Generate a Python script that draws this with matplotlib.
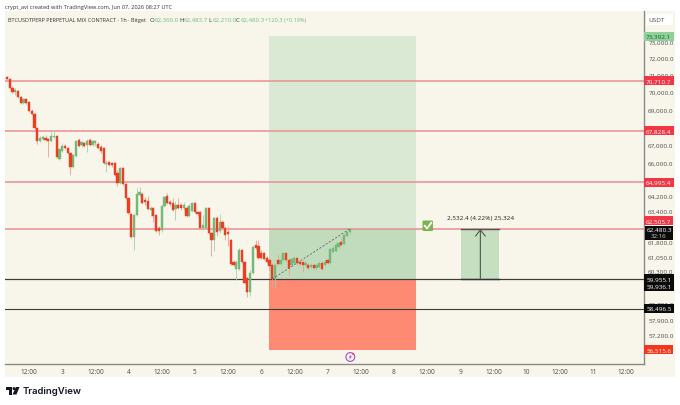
import matplotlib
matplotlib.use("Agg")
import matplotlib.pyplot as plt
from matplotlib.patches import Rectangle, FancyBboxPatch, Polygon, Circle
from matplotlib.ticker import NullLocator, NullFormatter
from matplotlib.transforms import blended_transform_factory, ScaledTranslation
import numpy as np

plt.rcParams['font.family'] = ['Open Sans', 'DejaVu Sans']

# ---------- data ----------
start_hour = 4
opens = [70940,70820,70310,70080,70130,69790,69440,69670,69500,68980,68810,68000,67270,67380,67440,67380,67270,67490,67550,66280,
         66720,67000,66890,66610,65830,66440,67330,67050,67160,67050,67330,67050,67160,67100,66940,66890,66000,66110,66050,66050,
         65490,64940,65770,64890,64150,63300,62100,63250,64310,64360,64040,63990,63510,63620,63250,62560,62450,63720,64250,63930,
         63880,63560,63780,63780,63620,63620,63190,63460,63880,63400,63400,62560,62560,63620,62300,61940,63090,62400,62880,62560,
         62350,61940,60820,60470,60470,61430,60820,60000,59300,60260,61690,61640,61280,61280,61030,60920,60670,59950,60920,60720,
         60920,61280,60920,60670,60770,61030,60820,60820,60670,60670,60570,60670,60520,60570,60770,60670,60920,60770,61330,61380,
         61590,61840,61740,62150,62360]
highs = [71000,70880,70420,70310,70190,69850,69730,69730,69560,69100,68870,68060,67550,67600,67600,67440,67830,67880,67600,66890,
         67160,67100,66940,66660,66550,67330,67440,67270,67220,67380,67440,67330,67330,67220,67050,66940,66220,66160,66110,66110,
         65660,65830,65830,64940,64200,63350,63300,64680,64730,64470,64200,64250,63720,63670,63300,62660,63780,64250,64410,64040,
         64150,63990,64150,63880,63930,63720,63830,63930,63930,63460,63460,63250,63670,63670,62350,63140,63190,63300,62980,62660,
         62660,62000,60920,60920,61530,61480,60870,60060,60420,61690,61940,61940,61430,61330,61130,61030,60770,60720,61230,61230,
         61330,61330,60970,61030,61130,61080,60920,60870,60920,60770,60770,60720,60770,60820,60820,60920,60970,61530,61640,61790,
         61840,62100,62300,62400,62484]
lows = [70770,70310,70020,69900,69730,69380,69380,69380,68920,68750,67890,67100,67220,67330,67270,66390,67220,67440,66330,66220,
        66660,66830,66550,65380,65770,66390,66940,66940,66940,66660,67000,67000,67000,66830,66610,66000,65550,65890,65830,65330,
        64780,64890,64830,64100,63300,62050,61430,63200,64200,63830,63780,63510,63200,62880,62350,62200,62350,63670,63830,63720,
        63460,62980,63560,63510,63510,63140,63140,63400,63350,63190,62510,62450,62510,62250,61120,61380,62150,62300,62510,61940,
        61640,60670,60620,59900,60420,60770,59700,59050,59100,60210,61480,60980,60980,60920,60770,60420,59550,59500,60670,60670,
        60870,60820,60160,60620,60720,60670,60620,60310,60620,60420,60470,60470,60420,60520,60420,60620,60720,60720,61280,61330,
        61530,61640,61690,62100,62210]
closes = [70820,70310,70080,70190,69790,69440,69670,69440,68980,68810,68000,67270,67440,67490,67330,67270,67550,67550,66390,66830,
          67000,66890,66610,65830,66500,67270,67000,67220,67000,67270,67050,67270,67270,66890,66720,66050,66050,65940,65940,65380,
          64940,65770,64890,64150,63350,62100,63250,64360,64470,63880,63930,63560,63620,63190,62400,62400,63720,64200,63880,63830,
          63510,63780,63620,63620,63780,63190,63720,63880,63400,63300,62560,62720,63620,62300,61940,63090,62350,62880,62560,62200,
          62250,60720,60670,60820,61430,60820,59750,59300,60260,61590,61530,61030,61030,60980,60820,60620,59950,60670,60720,60920,
          61280,60920,60520,60970,61030,60770,60720,60670,60770,60520,60670,60520,60670,60770,60470,60820,60770,61480,61530,61690,
          61790,61690,62200,62350,62480]

red_levels = [70710.7, 67828.4, 64995.4, 62505.7]
black_levels = [59955.1, 59936.1, 58496.5]
position_top, position_entry, position_stop = 73392.1, 59955.1, 56515.6
target_price = 62505.7
position_hours = (98.8, 152.0)
measure_hours = (168.4, 182.2)
trend_hours = (100.0, 128.0)
trend_prices = (59955.1, 62505.7)

tick_prices = [73000,72000,71000,70000,69000,68000,67000,66000,64200,63400,61800,61050,60300,58700,57900,57200]
tick_labels = ['73,000.0','72,000.0','71,000.0','70,000.0','69,000.0','68,000.0','67,000.0','66,000.0',
               '64,200.0','63,400.0','61,800.0','61,050.0','60,300.0','58,700.0','57,900.0','57,200.0']
time_hours = list(range(12, 235, 12))
time_labels = ['12:00','3','12:00','4','12:00','5','12:00','6','12:00','7','12:00','8','12:00','9','12:00','10','12:00','11','12:00']

# price tag: text, price, vertical pixel shift, face, text colour
tags = [('73,392.1', 73392.1, 0, '#8fd19a', '#1d5c2a'),
        ('70,710.7', 70710.7, 0, '#f23645', '#ffffff'),
        ('67,828.4', 67828.4, 0, '#f23645', '#ffffff'),
        ('64,995.4', 64995.4, 0, '#f23645', '#ffffff'),
        ('62,505.7', 62505.7, 8, '#f23645', '#ffffff'),
        ('59,955.1', 59955.1, 0, '#0b0b0b', '#ffffff'),
        ('59,936.1', 59936.1, -7, '#0b0b0b', '#ffffff'),
        ('58,496.5', 58496.5, 0, '#0b0b0b', '#ffffff'),
        ('56,515.6', 56515.6, 0, '#f6361c', '#ffffff')]

# ---------- figure ----------
W, H = 680, 406
fig = plt.figure(figsize=(W/100, H/100), dpi=100, facecolor='white')
PANEL = '#f8f5eb'
fig.patches.append(Rectangle((5/W, 1-378/H), 670/W, 366/H, transform=fig.transFigure, fc=PANEL, ec='none', zorder=-5))

ax = fig.add_axes([5/W, 1-365/H, 639/W, 353/H])
ax.set_facecolor('none')
ax.set_yscale('log')
ax.set_xlim(3.32, 234.5)
ax.set_ylim(55856, 74948)
for s in ('top', 'left'):
    ax.spines[s].set_visible(False)
for s in ('right', 'bottom'):
    ax.spines[s].set_color('#8a8a86')
    ax.spines[s].set_linewidth(1.0)

# long position and measure boxes
x0, x1 = position_hours
ax.fill_between([x0, x1], position_entry, position_top, color='#d9e9d4', lw=0, zorder=1)
ax.fill_between([x0, x1], position_entry, target_price, color='#c1dcbd', lw=0, zorder=1.1)
ax.fill_between([x0, x1], position_stop, position_entry, color='#ff8a73', lw=0, zorder=1)
m0, m1 = measure_hours
ax.fill_between([m0, m1], position_entry, target_price, color='#c5dfc0', lw=0, zorder=1)

# levels
for p in red_levels:
    ax.axhline(p, color='#e98f90', lw=1.1, zorder=2)
for p in black_levels:
    ax.axhline(p, color='#3c3c38', lw=0.8, zorder=2)
ax.plot([m0, m1], [target_price]*2, color='#555550', lw=1.0, zorder=2.5)
ax.plot([m0, m1], [position_entry]*2, color='#333330', lw=1.0, zorder=2.5)
mid = (m0 + m1)/2
ax.annotate('', xy=(mid, target_price), xytext=(mid, position_entry),
            arrowprops=dict(arrowstyle='->,head_width=0.35,head_length=0.45', color='#50564f', lw=0.8, shrinkA=0, shrinkB=0), zorder=3)
ax.text(mid, 63130, '2,532.4 (4.22%) 25,324', ha='center', va='center', fontsize=4.6, color='#222222', zorder=4)

# candles
t = start_hour + np.arange(len(closes))
o, h, l, c = map(np.array, (opens, highs, lows, closes))
up = c >= o
UP, DOWN = '#74b87a', '#ec3f22'
ax.vlines(t[up], l[up], h[up], color='#a6cfa6', lw=0.6, zorder=3)
ax.vlines(t[~up], l[~up], h[~up], color='#f0a08c', lw=0.6, zorder=3)
ax.bar(t[up], (c-o)[up], bottom=o[up], width=0.8, color=UP, lw=0.3, edgecolor=UP, zorder=3.5)
ax.bar(t[~up], (o-c)[~up], bottom=c[~up], width=0.8, color=DOWN, lw=0.3, edgecolor=DOWN, zorder=3.5)

# trend line
ax.plot(trend_hours, trend_prices, color='#5c6b5c', lw=0.6, ls=(0, (2.5, 2)), zorder=4)

# axes ticks
ax.yaxis.tick_right()
ax.yaxis.set_minor_locator(NullLocator())
ax.yaxis.set_minor_formatter(NullFormatter())
ax.set_yticks(tick_prices, tick_labels)
ax.tick_params(axis='y', length=0, pad=3, labelsize=4.6, labelcolor='#4a4a4a')
ax.set_xticks(time_hours, time_labels)
ax.tick_params(axis='x', length=0, pad=3, labelsize=4.7, labelcolor='#4a4a4a')
up_1px = ScaledTranslation(0, 1/100, fig.dpi_scale_trans)
for lab in ax.get_yticklabels():
    lab.set_transform(lab.get_transform() + up_1px)

# price tags
tr = blended_transform_factory(ax.transAxes, ax.transData)
for text, price, dy, face, col in tags:
    ax.annotate(text, xy=(1, price), xycoords=tr, xytext=(14.8*0.72, dy*0.72), textcoords='offset points',
                ha='center', va='center', fontsize=4.6, color=col, zorder=10, annotation_clip=False,
                bbox=dict(boxstyle='square,pad=0.32', fc=face, ec='none'))

# overlay in pixel coordinates: header, logo, icons
ov = fig.add_axes([0, 0, 1, 1])
ov.set_xlim(0, W); ov.set_ylim(H, 0); ov.axis('off'); ov.patch.set_alpha(0)
ov.text(5, 7.5, 'crypt_avi created with TradingView.com, Jun 07, 2026 08:27 UTC', fontsize=4.05, color='#333333', va='center')
ov.text(8, 20.5, 'BTCUSDTPERP PERPETUAL MIX CONTRACT · 1h · Bitget', fontsize=3.95, color='#333333', va='center')
G = '#6fbf7a'
for x, letter, val in [(150, 'O', '62,360.0'), (179, 'H', '62,483.7'), (208, 'L', '62,210.0'), (236, 'C', '62,480.3')]:
    ov.text(x, 20.5, letter, fontsize=4.4, color='#333333', va='center')
    ov.text(x+4.5, 20.5, val, fontsize=4.4, color=G, va='center')
ov.text(265, 20.5, '+120.3 (+0.19%)', fontsize=4.1, color=G, va='center')

ov.add_patch(Rectangle((645.5, 15), 27.5, 11, fc='white', ec='none'))
ov.text(656.5, 20.5, 'USDT', fontsize=4.6, color='#444444', ha='center', va='center')
ov.add_patch(Rectangle((644.5, 227), 28.5, 13.5, fc='#0b0b0b', ec='none', zorder=11))
ov.text(659, 230.5, '62,480.3', fontsize=4.6, color='white', ha='center', va='center', zorder=12)
ov.text(659, 236.8, '32:16', fontsize=4.4, color='#cfcfcf', ha='center', va='center', zorder=12)

# check icon
ov.add_patch(FancyBboxPatch((422.5, 221.5), 10.5, 10.5, boxstyle='round,pad=0,rounding_size=1', fc='#7cb44f', ec='none', zorder=6))
ov.plot([424.8, 427, 431.2], [226.8, 229.5, 223.8], color='white', lw=1.3, zorder=7)

# lightning icon
ov.add_patch(Circle((350.3, 358), 4.4, fc='none', ec='#a14fd0', lw=0.8, zorder=6))
ov.add_patch(Polygon([[351.3, 355.2], [348.6, 358.6], [350.2, 358.6], [349.3, 360.8], [352, 357.4], [350.4, 357.4]],
                     fc='#a14fd0', ec='none', zorder=6))
ov.add_patch(Circle((353.2, 354.8), 1.0, fc='#f23645', ec='none', zorder=7))

# TradingView logo
ov.add_patch(Polygon([[6, 388], [12, 388], [12, 395.5], [9, 395.5], [9, 391], [6, 391]], fc='#131722', ec='none'))
ov.add_patch(Circle((14, 389.6), 1.5, fc='#131722', ec='none'))
ov.add_patch(Polygon([[16, 388], [19.5, 388], [16.5, 395.5], [12.5, 395.5]], fc='#131722', ec='none'))
ov.text(23, 392, 'TradingView', fontsize=6.9, fontweight='semibold', color='#131722', va='center',
        family=['Inter', 'DejaVu Sans'])

fig.savefig('out.png', dpi=100, facecolor='white')
